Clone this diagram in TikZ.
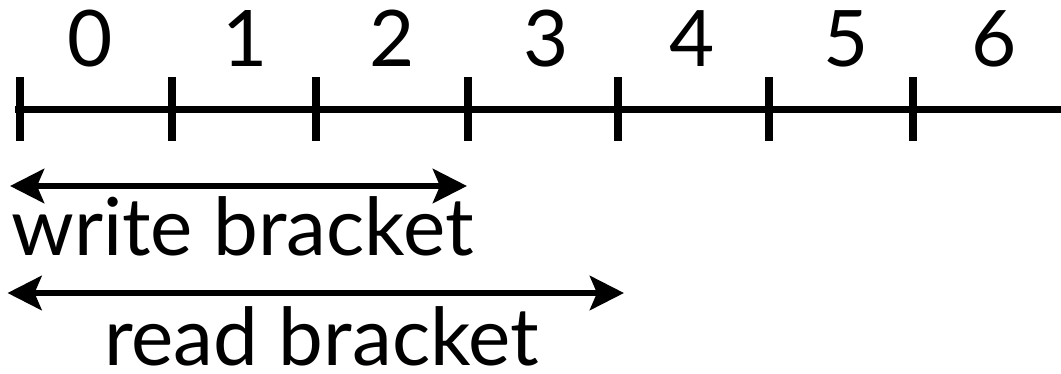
\documentclass[tikz,border=0pt]{standalone}
\usepackage{fontspec}
\setmainfont{Lato}
\usetikzlibrary{arrows.meta}

\tikzset{
  axisline/.style={line width=7pt, line cap=butt},
  tickmark/.style={line width=8pt, line cap=butt},
  digit/.style={inner sep=0pt, anchor=base, font=\fontsize{78}{90}\selectfont},
  caption/.style={inner sep=0pt, anchor=base west, text depth=0pt, font=\fontsize{80}{90}\selectfont},
  span/.style={line width=6.5pt, {Stealth[length=34pt, width=34pt, inset=7pt]}-{Stealth[length=34pt, width=34pt, inset=7pt]}}
}

\begin{document}
\begin{tikzpicture}[x=1pt, y=-1pt]
  \useasboundingbox (0,0) rectangle (1061,373);

  % number line
  \coordinate (lineL) at (15,109);
  \coordinate (lineR) at (1061,109);
  \draw[axisline] (lineL) -- (lineR);

  % tick marks
  \foreach \name/\x in {t0/20, t1/172, t2/316, t3/468, t4/618, t5/769, t6/913} {
    \coordinate (\name top) at (\x,77);
    \coordinate (\name bot) at (\x,141);
    \draw[tickmark] (\name top) -- (\name bot);
  }

  % cell numbers
  \node[digit] (n0) at (90,66) {0};
  \node[digit] (n1) at (245,66) {1};
  \node[digit] (n2) at (392,66) {2};
  \node[digit] (n3) at (546,66) {3};
  \node[digit] (n4) at (692,66) {4};
  \node[digit] (n5) at (846,66) {5};
  \node[digit] (n6) at (994,66) {6};

  % write bracket
  \coordinate (wL) at (10,186);
  \coordinate (wR) at (467,186);
  \draw[span] (wL) -- (wR);
  \node[caption] (wtext) at (11,255) {write bracket};

  % read bracket
  \coordinate (rL) at (7.5,293);
  \coordinate (rR) at (624,293);
  \draw[span] (rL) -- (rR);
  \node[caption] (rtext) at (104,365) {read bracket};
\end{tikzpicture}
\end{document}
